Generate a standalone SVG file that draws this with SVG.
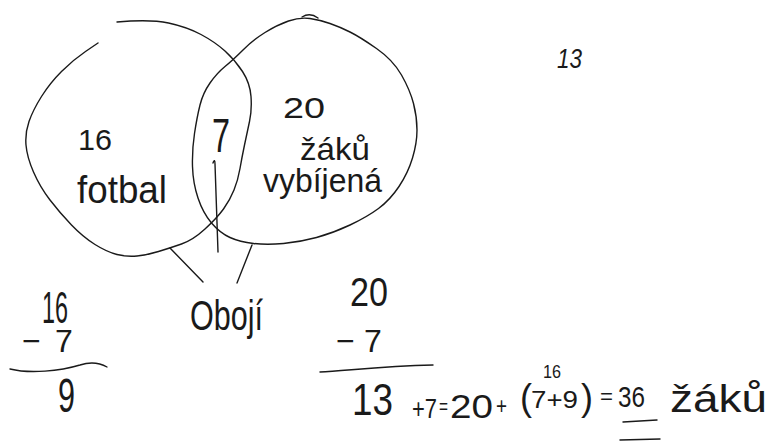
<svg xmlns="http://www.w3.org/2000/svg" width="771" height="441" viewBox="0 0 771 441">
<style>
.ink{fill:none;stroke:#1a1a1a;stroke-width:1.4;stroke-linecap:round;stroke-linejoin:round}
.t{font-family:"Liberation Sans","DejaVu Sans",sans-serif;fill:#1a1a1a;font-weight:normal}
</style>
<rect width="771" height="441" fill="#ffffff"/>
<g id="set-fotbal">
<path class="ink" d="M117,22 Q150,19 168.5,23 Q187,27 201,34.5 Q215,42 225,51 Q235,60 242.5,71.5 Q250,83 251,96.5 Q252,110 249.5,121.5 Q247,133 244.5,145 Q242,157 240,168.5 Q238,180 234,190 Q230,200 223.5,209 Q217,218 205,229 Q193,240 181.5,244 Q170,248 158.5,251.5 Q147,255 137,256 Q127,257 117,254.5 Q107,252 95,244.5 Q83,237 71.5,225 Q60,213 50,200 Q40,187 33.5,172 Q27,157 26,145 Q25,133 29,121.5 Q33,110 41.5,96.5 Q50,83 61.5,71.5 Q73,60 85.5,51.5 L98,43"/>
<text class="t" x="78" y="150" font-size="30" textLength="34" lengthAdjust="spacingAndGlyphs">16</text>
<text class="t" x="77" y="203" font-size="38" textLength="90" lengthAdjust="spacingAndGlyphs">fotbal</text>
</g>
<g id="set-vybijena">
<path class="ink" d="M225,66.5 Q233,60 243,50 Q253,40 265,32.5 Q277,25 288.5,21 Q300,17 310,18.5 Q320,20 330,23.5 Q340,27 350,32 Q360,37 376.5,48.5 Q393,60 401.5,75 Q410,90 413.5,103.5 Q417,117 417,130 Q417,143 412.5,158 Q408,173 399,186.5 Q390,200 378.5,208.5 Q367,217 350,225 Q333,233 316.5,237.5 Q300,242 283.5,243.5 Q267,245 253.5,243.5 Q240,242 230,237.5 Q220,233 211.5,223 Q203,213 198,198 Q193,183 192.5,166.5 Q192,150 194.5,133.5 Q197,117 200,105 Q203,93 210,83 Q217,73 225,66.5 Z"/>
<path class="ink" d="M302,17 Q310,12 318,18"/>
<text class="t" x="283" y="118" font-size="30" textLength="42" lengthAdjust="spacingAndGlyphs">20</text>
<text class="t" x="300" y="160" font-size="32" textLength="70" lengthAdjust="spacingAndGlyphs">žáků</text>
<text class="t" x="263" y="192" font-size="34" textLength="119" lengthAdjust="spacingAndGlyphs">vybíjená</text>
</g>
<g id="intersection">
<text class="t" x="212" y="152" font-size="48" textLength="18" lengthAdjust="spacingAndGlyphs">7</text>
</g>
<g id="label-oboji">
<text class="t" x="190" y="330" font-size="42" textLength="73" lengthAdjust="spacingAndGlyphs">Obojí</text>
</g>
<g id="connectors">
<path class="ink" d="M213,163 Q215,158 215,164 C216,200 217,230 218,252"/>
<path class="ink" d="M170,248 L203,282"/>
<path class="ink" d="M252,245 L237,283"/>
</g>
<g id="calc-fotbal">
<text class="t" x="42" y="323" font-size="44" textLength="26" lengthAdjust="spacingAndGlyphs">16</text>
<text class="t" x="22 55" y="352" font-size="32">−7</text>
<path class="ink" d="M10,369 C30,374 60,371 80,365 C92,361 100,363 107,367"/>
<text class="t" x="58" y="412" font-size="48" textLength="17" lengthAdjust="spacingAndGlyphs">9</text>
</g>
<g id="calc-vybijena">
<text class="t" x="350" y="306" font-size="40" textLength="38" lengthAdjust="spacingAndGlyphs">20</text>
<text class="t" x="336 364" y="352" font-size="32">−7</text>
<path class="ink" d="M320,372 C345,371 380,366 433,365"/>
</g>
<g id="total">
<text class="t" x="352" y="415" font-size="44" textLength="41" lengthAdjust="spacingAndGlyphs">13</text>
<text class="t" x="412" y="418" font-size="28" textLength="25" lengthAdjust="spacingAndGlyphs">+7</text>
<text class="t" x="439" y="414" font-size="22" textLength="9" lengthAdjust="spacingAndGlyphs">=</text>
<text class="t" x="450" y="418" font-size="34" textLength="43" lengthAdjust="spacingAndGlyphs">20</text>
<text class="t" x="496" y="414" font-size="24" textLength="11" lengthAdjust="spacingAndGlyphs">+</text>
<text class="t" x="520" y="410" font-size="36">(</text>
<text class="t" x="531" y="408" font-size="24" textLength="47" lengthAdjust="spacingAndGlyphs">7+9</text>
<text class="t" x="581" y="410" font-size="36">)</text>
<text class="t" x="543" y="378" font-size="18" textLength="18" lengthAdjust="spacingAndGlyphs">16</text>
<text class="t" x="600" y="404" font-size="22" textLength="13" lengthAdjust="spacingAndGlyphs">=</text>
<text class="t" x="618" y="407" font-size="30" textLength="27" lengthAdjust="spacingAndGlyphs">36</text>
<path class="ink" d="M623,422 L657,420"/>
<path class="ink" d="M620,440 L660,439" stroke-width="2"/>
<text class="t" x="670" y="412" font-size="38" textLength="97" lengthAdjust="spacingAndGlyphs">žáků</text>
</g>
<g id="page-number">
<text class="t" x="557" y="68" font-size="28" font-style="italic" textLength="25" lengthAdjust="spacingAndGlyphs">13</text>
</g>
</svg>
